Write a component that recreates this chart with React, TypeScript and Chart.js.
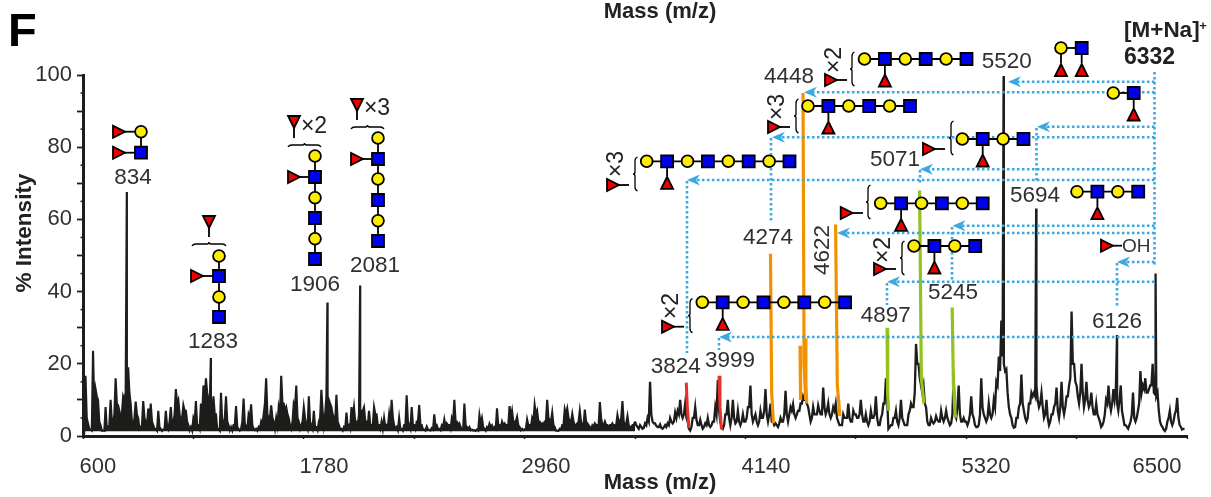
import React, { useEffect, useRef } from "react";
import { Chart, registerables } from "chart.js";

Chart.register(...registerables);

// Intensity samples, one list per 590 m/z axis interval
const trace600 = [3,16.7,3.5,1.8,23.6,13,10,3,1.5,8,2.5,10,3.5,16,8.5,5,11,12,19,9,3,9.5,5,2.5,9.7,4,7.6,9,3,2,7,2,1.8,7,2,8,3.5,13,10,4,8.5,7,3,2.5];
const trace1190 = [5,9.7,3,9,14,16,10,5,11,6,2,12,3,11,3,2.5,3,8.3,2,2,10.4,2.5,6,8.8,2,2,2.5,4,6,16,5,8.5,4,5,8,16.7,9,8,5,2,9,14,4,3];
const trace1780 = [8,3,11,3,7,2.5,4,12.8,3,11,10,8,5,11.4,3,2,2.5,6.5,3,8,8,4,6,7,8,4,7,3,8,6,3,4,5,3,6,10,3,2.5,5,2,3,11.3,3,8];
const trace2370 = [3,4,8.6,3,1.8,2.6,1.7,2.2,6,3,2,3,4.6,3.5,3,5,10,4,3.5,2,9,2.5,2.5,1.8,1.6,1.8,5.8,5,2,2.5,3.4,3,2.5,7.7,3,4,3.5,3,8.3,7,4,5.3,2.5,2];
const trace2960 = [1.8,4.6,3,5,8.6,7,4,3.5,4,10,4.5,6.5,2.5,1.5,2,3,7.4,7.6,4,6.2,3,3.5,7,3,7.3,3.5,2.5,3,3.5,3,9.4,3,4,3,3,3.5,3,5.8,4,9.7,3,5.5,2.5,3];
const trace3550 = [4,2.5,3,2,3.5,5,15,4,3.5,2.5,3.2,2,3,3.5,5,3.5,6.5,7,10,5,9,4,1.5,5,8,3,4.5,2,3.5,5,2.5,4,8,15.5,4,2,6,10,3,10,3.5,7,3,6];
const trace4140 = [4,8,14,4,6,3,7,5,13,4,9,4,3.5,2.5,5,4,12.5,4,8,8.8,5,7,9,11,10,8,4,8,6,8.5,6,13.4,6,9,5,8,9,4,3,6,5,9,4,7];
const trace4730 = [6,5,10,4,6,3,7,5,11,3,5,9,16,2,3,5,7,3,10,4,3,6,9,8,25.5,20,14,14,8,3,5,3.5,5.5,4,7,4,7,4,3.5,17,5,14,4,5];
const trace5320 = [4,4,11,5,2.5,3,16,6,4,9,5,10,15,22,32,20,18.5,8,5,2.3,5,8,17,7,4,9,12,12,14,8,12,5,10,3,6,8,13.4,5,15,6,11,14,34.5,20];
const trace5910 = [14,9,20,8,15,8,12,6,9,5,2.5,4,10,14,7,13,13,7,14,5,3,2,4,12,4,7,18,14,16,12,14,20,11.5,12,4,2.5,1.4,4,7,3,6,10.6,3,1.8,2];
const traceLists = [trace600, trace1190, trace1780, trace2370, trace2960, trace3550, trace4140, trace4730, trace5320, trace5910];

// Lower samples lying between the ones above
const fill600 = [2,5,2,1.5,8,11,4,1.5,1.4,2,3,4,6,9,7,6,10,14,12,4,5,6,2,3,5,3,4,4,2,1.5,2.5,1.4,2,3,4,3,6,9,6,5,7,4,1.6,1.5];
const fill1190 = [4,3,2,6,10,12,8,7,6,2,1.5,4,5,4,1.6,1.5,3,2.5,1.5,4,3.5,2,5,3,1.6,1.5,2,3,9,6,5,5,2,3,6,9,7,6,3,4,8,5,2,4];
const fill1780 = [5,2,4,2,2.5,1.6,5,7,6,8,9,6,4,4,2,1.5,2,2.5,2,5,4,3,5,7,4,3,3,3,6,3,2,2,2.5,2.5,3,5,2,1.6,2,1.5,3,4,2,3];
const fill2370 = [2,4,3,1.8,1.5,1.8,1.5,1.8,2.5,2,1.6,2.5,2.5,3,2,4,4,3,2.5,2,3,2,1.6,1.5,1.4,1.5,3.5,2.5,1.5,2,2.5,2,2,3,2.5,3,3,3,5,4,4,3,1.6,1.6];
const fill2960 = [2,3,2.5,4,6,4,3,3,4,5,4,3,1.5,1.4,1.8,3,6,5,4,4,3,4,4,3,4,3,2,2.5,3,3,5,3,3,2.5,3,2.8,3,4,5,4,3.5,3,2.5,3];
const fill3550 = [3,2,2.5,2.2,3,4,6,3.5,2.8,2.5,2.2,2.4,2.5,3,4,4,5,6,6,6,5,2,2.5,5,4.5,3,3,2.5,3,3,3,4,6,7,2.5,3,6,5,5,5,4,4,4,4];
const fill4140 = [5,8,6,5,4,4,5,7,6,6,4,3,3,3.5,4,6,6,6,7,6,6,7,9,10,9,6,5,6,6,7,6,8,7,6,6,7,5,3,3,5,5,5,4,6];
const fill4730 = [5,6,6,4,4,4,5,6,5,3,6,9,10,2.5,3,5,4,5,5,3,3,7,8,12,20,16,12,9,4,3,4,4,4.5,4,5,5,5,3,6,6,8,6,4,4];
const fill5320 = [3,6,6,3,2.5,6,8,5,5,6,6,8,14,18,22,18,12,6,3,2.5,5,9,9,5,5,9,11,11,10,9,8,6,5,4,6,9,7,8,8,8,11,16,20,15];
const fill5910 = [11,12,12,10,10,9,8,6,6,4,3,6,9,9,9,10,9,10,7,3,2.5,3,6,5,5,9,12,13,12,13,14,12,11,7,3,1.8,2,5,4,4,7,5,2.5,2];
const fillLists = [fill600, fill1190, fill1780, fill2370, fill2960, fill3550, fill4140, fill4730, fill5320, fill5910];

// Labelled peaks: [m/z, % intensity]
const blackPeaks = [[834, 67.6], [1283, 21.6], [1906, 37], [2081, 41.7], [5520, 99.7], [5694, 63], [6126, 28], [6332, 45]];
// Highlighted peaks: [top m/z, top %, shoulder %, foot m/z, foot %]
const redPeaks = [[3824, 14.8, 8, 3838, 2.2], [3999, 16.7, 8, 4012, 1.8]];
const orangePeaks = [[4274, 50.5, 12, 4290, 3.5], [4448, 95, 20, 4462, 10], [4432, 25, 14, 4436, 10], [4460, 27, 14, 4468, 9], [4622, 58.6, 14, 4645, 5.5]];
const greenPeaks = [[4897, 30, 12, 4905, 7], [5071, 68, 16, 5094, 9], [5245, 35.6, 14, 5262, 5]];

const massTicks = [600, 6500];
const massTickStep = 590;
const massLabels = ["600", "1780", "2960", "4140", "5320", "6500"];
const massLabelAnchors = [680, 1888, 3074, 4250, 5426, 6340];

const yRange = [0, 100];
const traceFloor = 1.3;
const denseBelowMass = 3550;
const FONT = '"Liberation Sans", Arial, sans-serif';
const INK = "#1d1d1b";
const TEXT = "#303030";
const BLUE = "#3aa9e0";

const buildTrace = () => {
  const points: { x: number; y: number }[] = [];
  traceLists.forEach((list, k) => {
    list.forEach((y, i) => points.push({ x: massTicks[0] + massTickStep * (k + i / list.length), y }));
  });
  fillLists.forEach((list, k) => {
    const n = traceLists[k].length;
    list.forEach((y, i) => points.push({ x: massTicks[0] + massTickStep * (k + (i + 0.5) / n), y }));
  });
  blackPeaks.forEach(([x, y]) => points.push({ x, y }));
  return points.sort((a, b) => a.x - b.x);
};

const buildHighlight = (peaks: number[][]) => {
  const points: { x: number; y: number | null }[] = [];
  peaks.forEach(([x, y, sy, fx, fy]) => {
    points.push({ x, y }, { x: x + (fx - x) * 0.4, y: sy }, { x: fx, y: fy }, { x: fx + 1, y: null });
  });
  return points;
};

// Annotation layer (pixel layout of the figure's glyphs)
type Chain = { x0: number; y: number; seq: string; fucAt: number };
const chains: Chain[] = [
  { x0: 864.5, y: 59, seq: "cscscs", fucAt: 1 },
  { x0: 808, y: 106, seq: "cscscs", fucAt: 1 },
  { x0: 646.7, y: 161.3, seq: "cscscscs", fucAt: 1 },
  { x0: 962.3, y: 139, seq: "cscs", fucAt: 1 },
  { x0: 880.7, y: 203.3, seq: "cscscs", fucAt: 1 },
  { x0: 914, y: 246, seq: "cscs", fucAt: 1 },
  { x0: 702.3, y: 302.3, seq: "cscscscs", fucAt: 1 },
  { x0: 1077, y: 191.7, seq: "cscs", fucAt: 1 },
  { x0: 1113.3, y: 93, seq: "cs", fucAt: 1 },
];
// [triangle x, y, link end x, brace x, multiplier text, multiplier x, multiplier y]
const sideFucs: [number, number, number, number, string, number, number][] = [
  [831, 80, 847, 852, "×2", 835, 60],
  [774, 127, 790, 796, "×3", 778, 107],
  [613, 185, 629, 635, "×3", 617, 164],
  [929, 149, 945, 951, "", 0, 0],
  [846.7, 213, 863, 868, "", 0, 0],
  [880, 269, 896, 902, "×2", 884, 250],
  [668, 326.7, 684, 690, "×2", 672, 306],
];
// [x start, y, x arrow tip]
const arrowsH: [number, number, number][] = [
  [1154.5, 81.7, 1008],
  [1154.5, 92.3, 804],
  [1154.5, 126.7, 1037],
  [1154.5, 137.3, 772],
  [1154.5, 169.3, 920],
  [1154.5, 180, 687],
  [1154.5, 225.7, 952.5],
  [1154.5, 233, 837],
  [1154.5, 262, 1117],
  [1154.5, 281.7, 887],
  [1154.5, 337, 719],
];
// [x, y start, y end]
const dotsV: [number, number, number][] = [
  [1154.5, 72, 265],
  [1036.5, 128, 183],
  [771, 138, 222],
  [920, 170, 185],
  [687, 181, 353],
  [952, 227, 280],
  [1117, 263, 307],
  [887, 283, 305],
  [719, 338, 350],
];
// [text, x, y]
const peakLabels: [string, number, number][] = [
  ["834", 133, 178], ["1283", 213, 342], ["1906", 315, 285], ["2081", 375, 266],
  ["3824", 675.7, 367], ["3999", 730, 361], ["4274", 768, 238], ["4448", 789, 77],
  ["4897", 885.7, 316], ["5071", 895, 160], ["5245", 953, 293], ["5520", 1006.7, 62],
  ["5694", 1035, 196], ["6126", 1117, 322],
];

const drawText = (c: CanvasRenderingContext2D, t: string, x: number, y: number, font: string, color = TEXT, align: CanvasTextAlign = "center", rot = 0) => {
  c.save();
  c.translate(x, y);
  c.rotate(rot);
  c.font = font;
  c.fillStyle = color;
  c.textAlign = align;
  c.textBaseline = "middle";
  c.fillText(t, 0, 0);
  c.restore();
};

const style = (c: CanvasRenderingContext2D, fill: string) => {
  c.fillStyle = fill;
  c.strokeStyle = "#000";
  c.lineWidth = 1.8;
  c.setLineDash([]);
};
const link = (c: CanvasRenderingContext2D, a: number, b: number, d: number, e: number) => {
  c.strokeStyle = "#000";
  c.lineWidth = 1.8;
  c.setLineDash([]);
  c.beginPath();
  c.moveTo(a, b);
  c.lineTo(d, e);
  c.stroke();
};
const circle = (c: CanvasRenderingContext2D, x: number, y: number) => {
  style(c, "#ffed00");
  c.beginPath();
  c.arc(x, y, 5.9, 0, Math.PI * 2);
  c.fill();
  c.stroke();
};
const square = (c: CanvasRenderingContext2D, x: number, y: number) => {
  style(c, "#0000f0");
  c.beginPath();
  c.rect(x - 6, y - 6, 12, 12);
  c.fill();
  c.stroke();
};
const tri = (c: CanvasRenderingContext2D, x: number, y: number, dir: "up" | "down" | "right") => {
  style(c, "#ee0000");
  const r = 6;
  c.beginPath();
  if (dir === "up") {
    c.moveTo(x, y - r); c.lineTo(x + r, y + r); c.lineTo(x - r, y + r);
  } else if (dir === "down") {
    c.moveTo(x, y + r); c.lineTo(x + r, y - r); c.lineTo(x - r, y - r);
  } else {
    c.moveTo(x + r, y); c.lineTo(x - r, y + r); c.lineTo(x - r, y - r);
  }
  c.closePath();
  c.fill();
  c.stroke();
};
const braceV = (c: CanvasRenderingContext2D, x: number, y0: number, y1: number) => {
  const m = (y0 + y1) / 2;
  c.strokeStyle = "#000";
  c.lineWidth = 1.3;
  c.setLineDash([]);
  c.beginPath();
  c.moveTo(x + 2.5, y0);
  c.quadraticCurveTo(x, y0 + 1, x, y0 + 4);
  c.lineTo(x, m - 2);
  c.quadraticCurveTo(x, m, x - 2, m);
  c.quadraticCurveTo(x, m, x, m + 2);
  c.lineTo(x, y1 - 4);
  c.quadraticCurveTo(x, y1 - 1, x + 2.5, y1);
  c.stroke();
};
const braceH = (c: CanvasRenderingContext2D, x0: number, x1: number, y: number) => {
  const m = (x0 + x1) / 2;
  c.strokeStyle = "#000";
  c.lineWidth = 1.3;
  c.setLineDash([]);
  c.beginPath();
  c.moveTo(x0, y + 2);
  c.quadraticCurveTo(x0 + 1, y, x0 + 4, y);
  c.lineTo(m - 2, y);
  c.quadraticCurveTo(m, y, m, y - 2);
  c.quadraticCurveTo(m, y, m + 2, y);
  c.lineTo(x1 - 4, y);
  c.quadraticCurveTo(x1 - 1, y, x1, y + 2);
  c.stroke();
};
const column = (c: CanvasRenderingContext2D, x: number, ys: number[], seq: string) => {
  link(c, x, ys[0], x, ys[ys.length - 1]);
  ys.forEach((y, i) => (seq[i] === "c" ? circle(c, x, y) : square(c, x, y)));
};
const fucRight = (c: CanvasRenderingContext2D, x: number, y: number, endX: number) => {
  link(c, x, y, endX, y);
  tri(c, x, y, "right");
};
const fucDown = (c: CanvasRenderingContext2D, x: number, y: number, endY: number) => {
  link(c, x, y, x, endY);
  tri(c, x, y, "down");
};

const annotationPlugin = {
  id: "glycanAnnotations",
  afterDatasetsDraw(chart: Chart) {
    const c = chart.ctx;
    const area = chart.chartArea;
    const yScale = chart.scales.y;
    c.save();

    // short 5% ticks on the intensity axis
    c.strokeStyle = INK;
    c.lineWidth = 1.5;
    for (let v = yRange[0] + 5; v < yRange[1]; v += 10) {
      const py = yScale.getPixelForValue(v);
      c.beginPath();
      c.moveTo(area.left - 2.5, py);
      c.lineTo(area.left, py);
      c.stroke();
    }

    // dotted routes
    c.strokeStyle = BLUE;
    c.lineWidth = 2.6;
    c.setLineDash([2.6, 2.4]);
    arrowsH.forEach(([x0, y, tip]) => {
      c.beginPath();
      c.moveTo(x0, y);
      c.lineTo(tip + 8, y);
      c.stroke();
    });
    dotsV.forEach(([x, y0, y1]) => {
      c.beginPath();
      c.moveTo(x, y0);
      c.lineTo(x, y1);
      c.stroke();
    });
    c.setLineDash([]);
    c.fillStyle = BLUE;
    arrowsH.forEach(([, y, tip]) => {
      c.beginPath();
      c.moveTo(tip, y);
      c.lineTo(tip + 13, y - 5.5);
      c.lineTo(tip + 9, y);
      c.lineTo(tip + 13, y + 5.5);
      c.closePath();
      c.fill();
    });

    // horizontal glycan chains
    const gap = 20.4;
    chains.forEach(({ x0, y, seq, fucAt }) => {
      const fx = x0 + gap * fucAt;
      link(c, x0, y, x0 + gap * (seq.length - 1), y);
      link(c, fx, y, fx, y + 15);
      tri(c, fx, y + 21.5, "up");
      seq.split("").forEach((s, i) => (s === "c" ? circle(c, x0 + gap * i, y) : square(c, x0 + gap * i, y)));
    });
    sideFucs.forEach(([x, y, end, bx, mult, mx, my]) => {
      fucRight(c, x, y, end);
      braceV(c, bx, y - 28, y + 6);
      if (mult) drawText(c, mult, mx, my, `23px ${FONT}`, "#222", "center", -Math.PI / 2);
    });

    // two-branch glycan at top right
    link(c, 1061, 48, 1081.7, 48);
    link(c, 1061, 48, 1061, 63);
    link(c, 1081.7, 48, 1081.7, 63);
    tri(c, 1061, 70, "up");
    tri(c, 1081.7, 70, "up");
    circle(c, 1061, 48);
    square(c, 1081.7, 48);

    // OH glyph
    fucRight(c, 1107, 245.7, 1122);
    drawText(c, "OH", 1122, 246.5, `19px ${FONT}`, "#333", "left");

    // left-hand glycans
    link(c, 119, 131.7, 141, 131.7);
    link(c, 119, 152.7, 141, 152.7);
    link(c, 141, 131.7, 141, 152.7);
    tri(c, 119, 131.7, "right");
    tri(c, 119, 152.7, "right");
    circle(c, 141, 131.7);
    square(c, 141, 152.7);

    fucDown(c, 209, 222, 237);
    braceH(c, 192, 226, 244);
    fucRight(c, 197, 276, 219);
    column(c, 219, [256, 276, 297, 317], "cscs");

    fucDown(c, 294, 122, 138);
    drawText(c, "×2", 314, 127, `23px ${FONT}`, "#222");
    braceH(c, 288, 321, 145);
    fucRight(c, 294, 177, 315);
    column(c, 315, [156, 177, 197.7, 218, 238.7, 259], "cscscs");

    fucDown(c, 357, 105, 120);
    drawText(c, "×3", 377, 109, `23px ${FONT}`, "#222");
    braceH(c, 351, 384, 127);
    fucRight(c, 357, 159, 378);
    column(c, 378, [138, 159, 179, 200, 220.7, 241], "cscscs");

    // peak labels
    peakLabels.forEach(([t, x, y]) => drawText(c, t, x, y, `22.5px ${FONT}`));
    drawText(c, "4622", 822.5, 250, `22.5px ${FONT}`, TEXT, "center", -Math.PI / 2);

    // figure texts
    drawText(c, "F", 8, 33, `bold 47px ${FONT}`, "#000", "left");
    drawText(c, "Mass (m/z)", 660, 12, `bold 22px ${FONT}`, "#222");
    drawText(c, "Mass (m/z)", 660, 483, `bold 22px ${FONT}`, "#222");
    drawText(c, "% Intensity", 25, 233, `bold 22.5px ${FONT}`, "#222", "center", -Math.PI / 2);
    drawText(c, "[M+Na]", 1124, 31, `bold 22.5px ${FONT}`, "#222", "left");
    drawText(c, "+", 1203, 26, `bold 13px ${FONT}`, "#222");
    drawText(c, "6332", 1124, 58, `bold 23px ${FONT}`, "#222", "left");
    c.restore();
  },
};

export default function App() {
  const ref = useRef<HTMLCanvasElement>(null);
  useEffect(() => {
    document.body.style.margin = "0";
    const trace = buildTrace();
    const denseEnd = trace.findIndex((p) => p.x >= denseBelowMass);
    const chart = new Chart(ref.current as HTMLCanvasElement, {
      type: "line",
      data: {
        datasets: [
          { data: buildHighlight(redPeaks), borderColor: "#e6332a", borderWidth: 3, pointRadius: 0, spanGaps: false, tension: 0 },
          { data: buildHighlight(orangePeaks), borderColor: "#f39200", borderWidth: 3.2, pointRadius: 0, spanGaps: false, tension: 0 },
          { data: buildHighlight(greenPeaks), borderColor: "#95c11f", borderWidth: 3.2, pointRadius: 0, spanGaps: false, tension: 0 },
          { data: trace.slice(0, denseEnd + 1), borderColor: INK, borderWidth: 2.1, pointRadius: 0, tension: 0, fill: { value: traceFloor }, backgroundColor: INK },
          { data: trace.slice(denseEnd), borderColor: INK, borderWidth: 2.3, pointRadius: 0, tension: 0 },
        ] as any,
      },
      options: {
        responsive: false,
        animation: false,
        parsing: false,
        normalized: true,
        layout: { padding: { top: 75, right: 24, left: 0, bottom: 0 } },
        plugins: { legend: { display: false }, title: { display: false }, tooltip: { enabled: false } },
        scales: {
          x: {
            type: "linear",
            min: massTicks[0],
            max: massTicks[1],
            weight: 0,
            ticks: { display: false, stepSize: massTickStep },
            grid: { drawOnChartArea: false, drawTicks: true, tickLength: 3, color: INK, tickWidth: 1.5 },
            border: { color: INK, width: 3 },
          },
          xLabels: {
            type: "linear",
            position: "bottom",
            min: massTicks[0],
            max: massTicks[1],
            weight: 1,
            afterBuildTicks: (axis: any) => {
              axis.ticks = massLabelAnchors.map((value) => ({ value }));
            },
            afterFit: (axis: any) => {
              axis.height = 58;
            },
            ticks: {
              autoSkip: false,
              maxRotation: 0,
              minRotation: 0,
              padding: 7,
              color: TEXT,
              font: { family: FONT, size: 22 },
              callback: (_v: any, i: number) => massLabels[i],
            },
            grid: { display: false },
            border: { display: false },
          },
          y: {
            min: yRange[0],
            max: yRange[1],
            afterFit: (axis: any) => {
              axis.width = 83;
            },
            ticks: {
              stepSize: 10,
              autoSkip: false,
              padding: 5,
              color: TEXT,
              font: { family: FONT, size: 22 },
              callback: (v: any) => (Number(v) % 20 === 0 ? String(v) : ""),
            },
            grid: { drawOnChartArea: false, tickLength: 6, color: INK, tickWidth: 1.8 },
            border: { color: INK, width: 3 },
          },
        },
      } as any,
      plugins: [annotationPlugin as any],
    });
    return () => chart.destroy();
  }, []);
  return (
    <div style={{ width: 1211, height: 497 }}>
      <canvas ref={ref} width={1211} height={497} style={{ display: "block" }} />
    </div>
  );
}
